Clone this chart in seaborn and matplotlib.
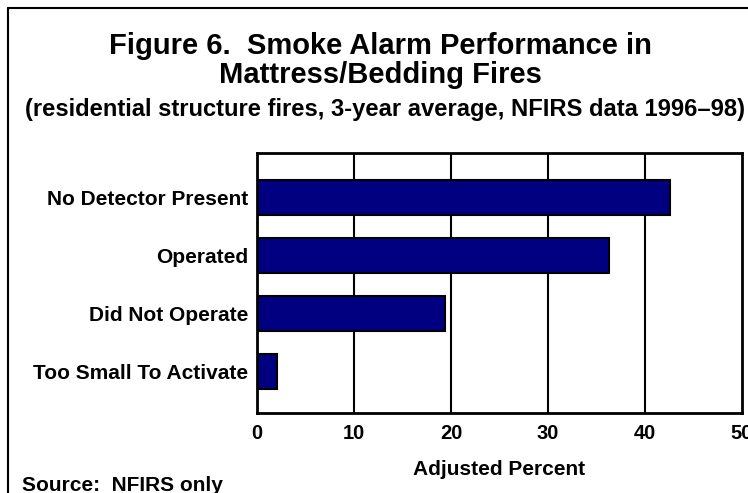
import pandas as pd
import matplotlib.pyplot as plt
import matplotlib.lines as mlines
import seaborn as sns

# Values
categories = ['No Detector Present', 'Operated', 'Did Not Operate', 'Too Small To Activate']
percent = [42.6, 36.3, 19.4, 2.1]
xticks = [0, 10, 20, 30, 40, 50]

df = pd.DataFrame({'category': categories, 'percent': percent})

sns.set_style('white')
plt.rcParams['font.family'] = ['Liberation Sans', 'DejaVu Sans']
plt.rcParams['font.weight'] = 'bold'
plt.rcParams['text.color'] = 'black'
plt.rcParams['xtick.color'] = 'black'
plt.rcParams['ytick.color'] = 'black'
plt.rcParams['axes.labelcolor'] = 'black'

W, H = 748, 493
fig = plt.figure(figsize=(W / 100, H / 100), dpi=100)
ax = fig.add_axes([257 / W, 1 - 413 / H, 485 / W, 260 / H])

sns.barplot(data=df, x='percent', y='category', color='#000080', saturation=1,
            width=0.6, edgecolor='black', linewidth=1.5, ax=ax)

ax.set_xlim(0, 50)
ax.set_ylim(3.72, -0.77)
ax.set_xticks(xticks)
ax.set_xticklabels([str(t) for t in xticks], fontsize=14.5, fontweight='bold')
ax.tick_params(axis='y', labelsize=15, length=0, pad=6.5)
ax.tick_params(axis='x', length=0, pad=8)
for lbl in ax.get_yticklabels():
    lbl.set_fontweight('bold')
ax.set_ylabel('')
ax.set_xlabel('Adjusted Percent', fontsize=15, fontweight='bold', labelpad=12)

ax.grid(False)
for t in xticks[1:-1]:
    ax.axvline(t, color='black', linewidth=1.5, zorder=0)
for s in ax.spines.values():
    s.set_color('black')
    s.set_linewidth(2)

# Title block
fig.text(380 / W, 1 - 54 / H, 'Figure 6.  Smoke Alarm Performance in', ha='center', va='baseline',
         fontsize=21, fontweight='bold')
fig.text(380 / W, 1 - 83 / H, 'Mattress/Bedding Fires', ha='center', va='baseline',
         fontsize=21, fontweight='bold')
fig.text(385 / W, 1 - 116 / H,
         '(residential structure fires, 3-year average, NFIRS data 1996\u201398)',
         ha='center', va='baseline', fontsize=17.1, fontweight='bold')
fig.text(22 / W, 1 - 491 / H, 'Source:  NFIRS only', ha='left', va='baseline',
         fontsize=15, fontweight='bold')

# Outer frame (clipped on the right and bottom in the original)
fig.add_artist(mlines.Line2D([8 / W, 1], [1 - 8 / H, 1 - 8 / H], color='black', linewidth=1.5))
fig.add_artist(mlines.Line2D([8 / W, 8 / W], [0, 1 - 8 / H], color='black', linewidth=1.5))

plt.savefig('out.png', dpi=100)
